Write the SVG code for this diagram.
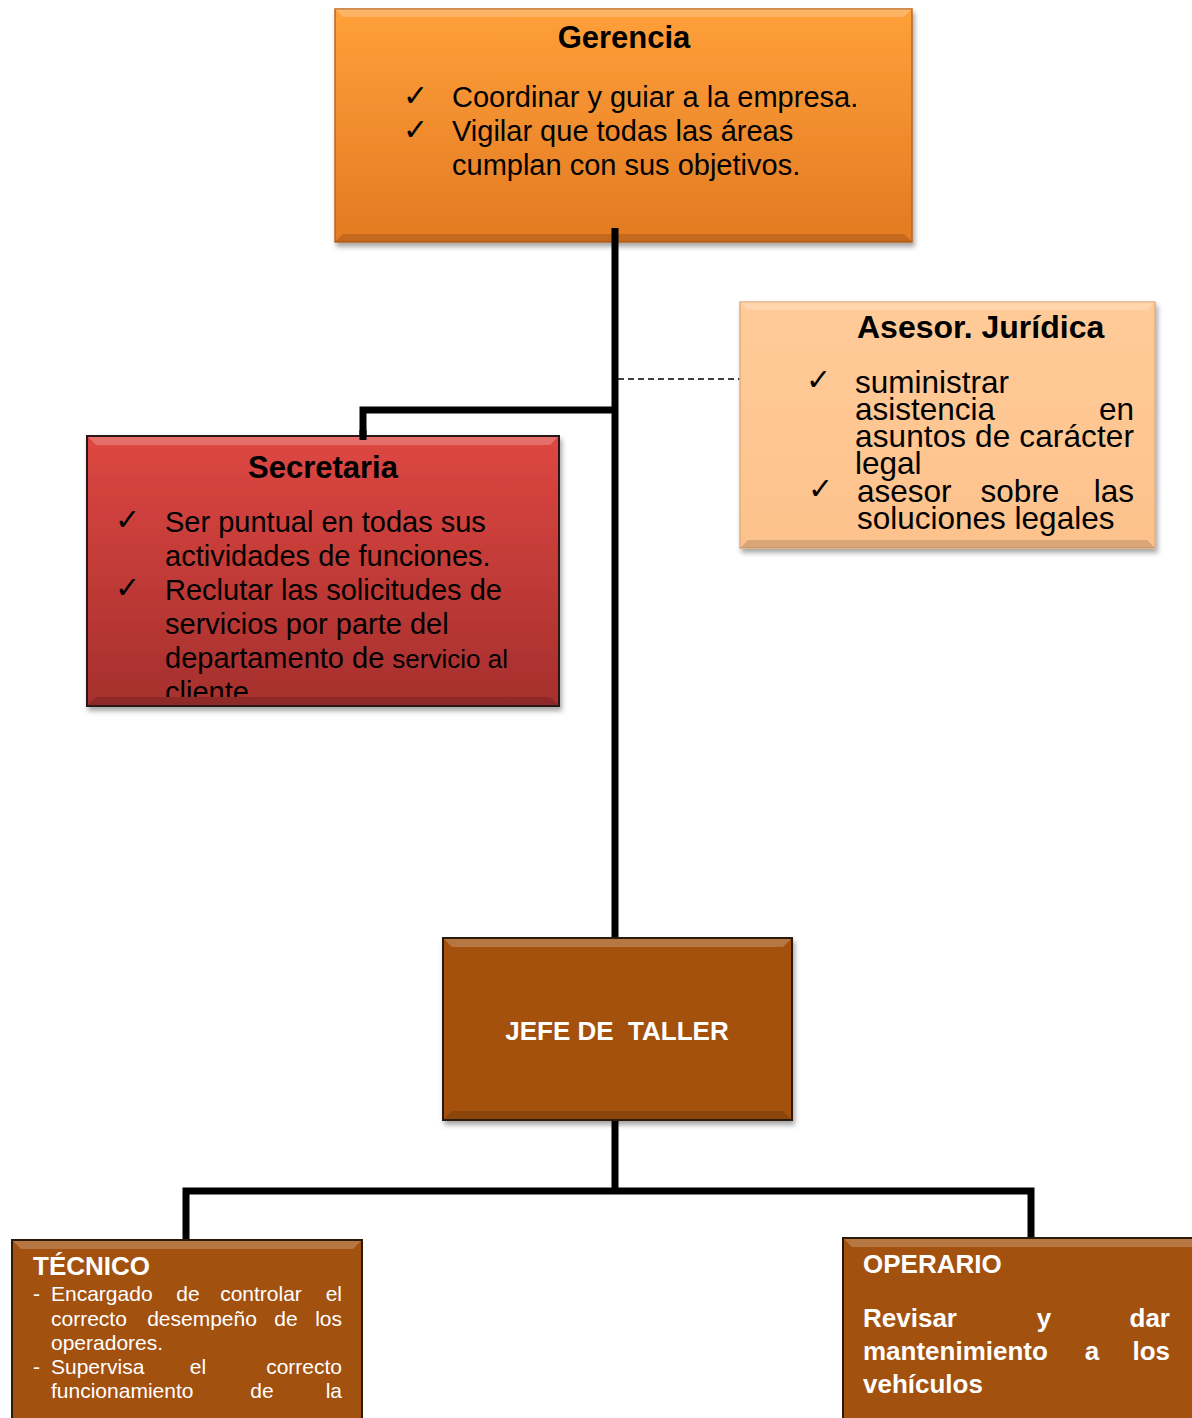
<svg xmlns="http://www.w3.org/2000/svg" width="1192" height="1418" viewBox="0 0 1192 1418">
<defs>
<linearGradient id="gOrange" x1="0" y1="0" x2="0" y2="1"><stop offset="0" stop-color="#FFA03A"/><stop offset="1" stop-color="#E27A22"/></linearGradient>
<linearGradient id="gPeach" x1="0" y1="0" x2="0" y2="1"><stop offset="0" stop-color="#FFCB98"/><stop offset="1" stop-color="#FDC28C"/></linearGradient>
<linearGradient id="gRed" x1="0" y1="0" x2="0" y2="1"><stop offset="0" stop-color="#DE4742"/><stop offset="1" stop-color="#A52F2D"/></linearGradient>
<filter id="sh" x="-5%" y="-5%" width="112%" height="115%"><feDropShadow dx="2" dy="4" stdDeviation="2.5" flood-color="#000" flood-opacity="0.35"/></filter>
<clipPath id="clipSec"><rect x="90" y="439" width="466" height="258"/></clipPath>
</defs>
<style>
.t{font-family:"Liberation Sans",Arial,sans-serif;}
.ck{font-family:"DejaVu Sans",sans-serif;}
.b{font-weight:bold;}
.w{fill:#fff;}
.k{fill:#000;}
.line{stroke:#000;stroke-width:7;fill:none;}
.bevT{fill:#fff;opacity:0.22;}
.bevB{fill:#000;opacity:0.14;}
</style>

<g id="connectors">
<line class="line" x1="615" y1="228" x2="615" y2="940"/>
<polyline class="line" points="615,410 363,410 363,440"/>
<line x1="618" y1="379" x2="740" y2="379" stroke="#000" stroke-width="1.5" stroke-dasharray="6,4"/>
<line class="line" x1="615" y1="1118" x2="615" y2="1191"/>
<polyline class="line" points="186,1244 186,1191 1031,1191 1031,1242"/>
</g>

<g id="gerencia">
<rect x="335" y="9" width="577" height="233" fill="url(#gOrange)" stroke="#C0651C" stroke-width="1.5" filter="url(#sh)"/>
<polygon class="bevT" points="335,9 912,9 904,17 343,17"/>
<polygon class="bevB" points="335,242 912,242 904,234 343,234"/>
<line class="line" x1="615" y1="228" x2="615" y2="243"/>
<text class="t b k" x="624" y="48" font-size="31" text-anchor="middle">Gerencia</text>
<text class="ck k" x="403" y="106" font-size="30">✓</text>
<text class="ck k" x="403" y="140" font-size="30">✓</text>
<text class="t k" font-size="29"><tspan x="452" y="107">Coordinar y guiar a la empresa.</tspan><tspan x="452" y="141">Vigilar que todas las áreas</tspan><tspan x="452" y="175">cumplan con sus objetivos.</tspan></text>
</g>

<g id="asesor">
<rect x="740" y="302" width="415" height="246" fill="url(#gPeach)" stroke="#E5AD7A" stroke-width="1.5" filter="url(#sh)"/>
<polygon class="bevT" points="740,302 1155,302 1147,310 748,310"/>
<polygon class="bevB" points="740,548 1155,548 1147,540 748,540" opacity="0.08"/>
<text class="t b k" x="857" y="338" font-size="32">Asesor. Jurídica</text>
<text class="ck k" x="806" y="390" font-size="30">✓</text>
<text class="ck k" x="808" y="499" font-size="30">✓</text>
<g class="t k" font-size="31.5">
<text x="855" y="393">suministrar</text>
<text x="855" y="420">asistencia</text>
<text x="1134" y="420" text-anchor="end">en</text>
<text x="855" y="447" textLength="279" lengthAdjust="spacing">asuntos de carácter</text>
<text x="855" y="474">legal</text>
<text x="857" y="502">asesor</text>
<text x="1020" y="502" text-anchor="middle">sobre</text>
<text x="1134" y="502" text-anchor="end">las</text>
<text x="857" y="529">soluciones legales</text>
</g>
</g>

<g id="secretaria">
<rect x="87" y="436" width="472" height="270" fill="url(#gRed)" stroke="#2A1414" stroke-width="2" filter="url(#sh)"/>
<polygon class="bevT" points="88,437 558,437 550,445 96,445"/>
<polygon class="bevB" points="88,705 558,705 550,697 96,697"/>
<line class="line" x1="363" y1="430" x2="363" y2="440"/>
<text class="t b k" x="323" y="478" font-size="31" text-anchor="middle">Secretaria</text>
<text class="ck k" x="115" y="530" font-size="30">✓</text>
<text class="ck k" x="115" y="598" font-size="30">✓</text>
<g clip-path="url(#clipSec)">
<text class="t k" font-size="29"><tspan x="165" y="532">Ser puntual en todas sus</tspan><tspan x="165" y="566">actividades de funciones.</tspan><tspan x="165" y="600">Reclutar las solicitudes de</tspan><tspan x="165" y="634">servicios por parte del</tspan><tspan x="165" y="668">departamento de <tspan font-size="26">servicio al</tspan></tspan><tspan x="165" y="702">cliente.</tspan></text>
</g>
</g>

<g id="jefe">
<rect x="443" y="938" width="349" height="182" fill="#A3510F" stroke="#2A1A0A" stroke-width="2" filter="url(#sh)"/>
<polygon class="bevT" points="444,939 791,939 783,947 452,947"/>
<polygon class="bevB" points="444,1119 791,1119 783,1111 452,1111"/>
<text class="t b w" x="617" y="1040" font-size="26" text-anchor="middle" xml:space="preserve">JEFE DE  TALLER</text>
</g>

<g id="tecnico">
<rect x="12" y="1240" width="350" height="190" fill="#A3510F" stroke="#2A1A0A" stroke-width="2"/>
<polygon class="bevT" points="13,1241 361,1241 353,1249 21,1249"/>
<text class="t b w" x="33" y="1275" font-size="26">TÉCNICO</text>
<g class="t w" font-size="21">
<text x="33" y="1301">-</text>
<text x="51" y="1301">Encargado</text>
<text x="188" y="1301" text-anchor="middle">de</text>
<text x="261" y="1301" text-anchor="middle">controlar</text>
<text x="342" y="1301" text-anchor="end">el</text>
<text x="51" y="1326">correcto</text>
<text x="202" y="1326" text-anchor="middle">desempeño</text>
<text x="286" y="1326" text-anchor="middle">de</text>
<text x="342" y="1326" text-anchor="end">los</text>
<text x="51" y="1350">operadores.</text>
<text x="33" y="1374">-</text>
<text x="51" y="1374">Supervisa</text>
<text x="198" y="1374" text-anchor="middle">el</text>
<text x="342" y="1374" text-anchor="end">correcto</text>
<text x="51" y="1398">funcionamiento</text>
<text x="262" y="1398" text-anchor="middle">de</text>
<text x="342" y="1398" text-anchor="end">la</text>
</g>
</g>

<g id="operario">
<rect x="843" y="1238" width="360" height="190" fill="#A3510F" stroke="#2A1A0A" stroke-width="2"/>
<polygon class="bevT" points="844,1239 1192,1239 1192,1247 852,1247"/>
<g class="t b w" font-size="26">
<text x="863" y="1273">OPERARIO</text>
<text x="863" y="1327">Revisar</text>
<text x="1044" y="1327" text-anchor="middle">y</text>
<text x="1170" y="1327" text-anchor="end">dar</text>
<text x="863" y="1360">mantenimiento</text>
<text x="1092" y="1360" text-anchor="middle">a</text>
<text x="1170" y="1360" text-anchor="end">los</text>
<text x="863" y="1393">vehículos</text>
</g>
</g>
</svg>
